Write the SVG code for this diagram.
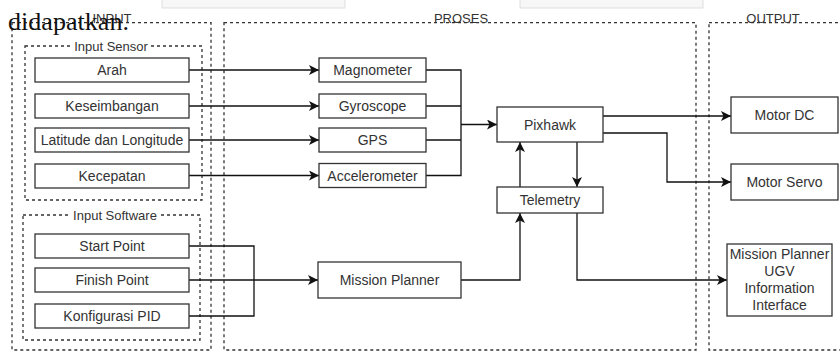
<svg xmlns="http://www.w3.org/2000/svg" width="840" height="352" viewBox="0 0 840 352">
<style>
.grp{fill:none;stroke:#333;stroke-width:1.3;stroke-dasharray:3 3}
.box{fill:#fff;stroke:#333;stroke-width:1.3}
.t{font-family:"Liberation Sans",Arial,sans-serif;font-size:14px;fill:#333;text-anchor:middle}
.tt{font-family:"Liberation Sans",Arial,sans-serif;font-size:13px;fill:#333;text-anchor:middle}
.c{fill:none;stroke:#111;stroke-width:1.3}
</style>
<defs>
<marker id="arr" viewBox="0 0 10 10" refX="10" refY="5" markerWidth="10" markerHeight="10" markerUnits="userSpaceOnUse" orient="auto">
<path d="M0,0 L10,5 L0,10 L2.5,5 Z" fill="#111"/>
</marker>
</defs>
<rect width="840" height="352" fill="#fff"/>
<g id="page-fragment">
<rect x="162" y="-1" width="183" height="9" fill="#f7f7f7" stroke="#d8d8d8" stroke-width="0.8"/>
<rect x="520" y="-1" width="183" height="9" fill="#f7f7f7" stroke="#d8d8d8" stroke-width="0.8"/>
</g>
<g id="groups">
<rect class="grp" x="12" y="22.7" width="199" height="327.3"/>
<rect class="grp" x="224" y="22.7" width="472" height="327.3"/>
<rect class="grp" x="709" y="22.7" width="140" height="327.3"/>
<rect class="grp" x="25" y="46" width="177" height="154"/>
<rect class="grp" x="23" y="215" width="177" height="125"/>
<text class="tt" x="112" y="22.5">INPUT</text>
<text class="tt" x="461" y="22.5">PROSES</text>
<text class="tt" x="773" y="22.5">OUTPUT</text>
<rect x="73" y="40" width="76" height="12" fill="#fff"/>
<text class="tt" x="111" y="51">Input Sensor</text>
<rect x="71" y="209" width="88" height="12" fill="#fff"/>
<text class="tt" x="115" y="220">Input Software</text>
</g>
<g id="connectors">
<path class="c" d="M189,70 H319" marker-end="url(#arr)"/>
<path class="c" d="M189,106 H319" marker-end="url(#arr)"/>
<path class="c" d="M189,140 H319" marker-end="url(#arr)"/>
<path class="c" d="M189,175.5 H319" marker-end="url(#arr)"/>
<path class="c" d="M426,70 H461 V175.5 H426 M426,106 H461 M426,140 H461"/>
<path class="c" d="M461,124.5 H497" marker-end="url(#arr)"/>
<path class="c" d="M603,116 H731" marker-end="url(#arr)"/>
<path class="c" d="M603,133 H667 V182 H731" marker-end="url(#arr)"/>
<path class="c" d="M577,142 V187" marker-end="url(#arr)"/>
<path class="c" d="M520,187 V142" marker-end="url(#arr)"/>
<path class="c" d="M461,280 H520 V213" marker-end="url(#arr)"/>
<path class="c" d="M577,213 V280 H727" marker-end="url(#arr)"/>
<path class="c" d="M189,246 H254 V316 H189"/>
<path class="c" d="M189,280 H318" marker-end="url(#arr)"/>
</g>
<g id="arah"><rect class="box" x="35" y="58" width="154" height="24"/><text class="t" x="112" y="75">Arah</text></g>
<g id="keseimbangan"><rect class="box" x="35" y="94" width="154" height="24"/><text class="t" x="112" y="111">Keseimbangan</text></g>
<g id="latlong"><rect class="box" x="35" y="128" width="154" height="24"/><text class="t" x="112" y="145">Latitude dan Longitude</text></g>
<g id="kecepatan"><rect class="box" x="35" y="164" width="154" height="24"/><text class="t" x="112" y="181">Kecepatan</text></g>
<g id="startpoint"><rect class="box" x="35" y="234" width="154" height="24"/><text class="t" x="112" y="251">Start Point</text></g>
<g id="finishpoint"><rect class="box" x="35" y="268" width="154" height="24"/><text class="t" x="112" y="285">Finish Point</text></g>
<g id="pid"><rect class="box" x="35" y="304" width="154" height="24"/><text class="t" x="112" y="321">Konfigurasi PID</text></g>
<g id="magnometer"><rect class="box" x="319" y="58" width="107" height="24"/><text class="t" x="372.5" y="75">Magnometer</text></g>
<g id="gyroscope"><rect class="box" x="319" y="94" width="107" height="24"/><text class="t" x="372.5" y="111">Gyroscope</text></g>
<g id="gps"><rect class="box" x="319" y="128" width="107" height="24"/><text class="t" x="372.5" y="145">GPS</text></g>
<g id="accelerometer"><rect class="box" x="319" y="163.5" width="107" height="24"/><text class="t" x="372.5" y="180.5">Accelerometer</text></g>
<g id="missionplanner"><rect class="box" x="318" y="262" width="143" height="36"/><text class="t" x="389.5" y="285">Mission Planner</text></g>
<g id="pixhawk"><rect class="box" x="497" y="107" width="106" height="35"/><text class="t" x="550" y="129.5">Pixhawk</text></g>
<g id="telemetry"><rect class="box" x="497" y="187" width="106" height="26"/><text class="t" x="550" y="205">Telemetry</text></g>
<g id="motordc"><rect class="box" x="731" y="97" width="107" height="36"/><text class="t" x="784.5" y="120">Motor DC</text></g>
<g id="motorservo"><rect class="box" x="731" y="164" width="107" height="36"/><text class="t" x="784.5" y="187">Motor Servo</text></g>
<g id="mpugv"><rect class="box" x="727" y="244" width="105" height="72"/>
<text class="t" x="779.5" y="259">Mission Planner</text>
<text class="t" x="779.5" y="276">UGV</text>
<text class="t" x="779.5" y="293">Information</text>
<text class="t" x="779.5" y="310">Interface</text></g>
<text x="8" y="30" font-family="'Liberation Serif','Times New Roman',serif" font-size="26" fill="#111" textLength="121" lengthAdjust="spacingAndGlyphs">didapatkan.</text>
</svg>
